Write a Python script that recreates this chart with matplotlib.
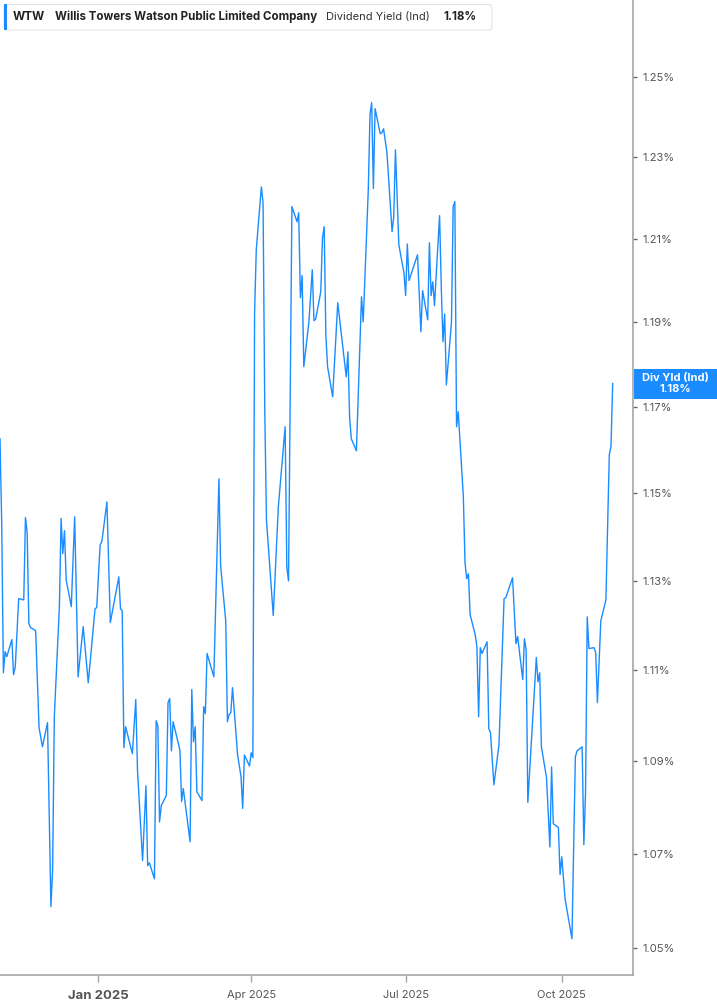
import matplotlib
matplotlib.use("Agg")
import matplotlib.pyplot as plt
import matplotlib.transforms as mtransforms
from matplotlib.patches import FancyBboxPatch, Rectangle
from matplotlib.ticker import FixedLocator, NullLocator, FuncFormatter
import pandas as pd

plt.rcParams['font.family'] = ['Inter', 'DejaVu Sans']

ticker = "WTW"
company = "Willis Towers Watson Public Limited Company"
metric = "Dividend Yield (Ind)"
box_label = "Div Yld (Ind)"

dates = [
    "2024-11-04", "2024-11-05", "2024-11-06", "2024-11-07", "2024-11-08", "2024-11-11", "2024-11-12",
    "2024-11-13", "2024-11-15", "2024-11-18", "2024-11-19", "2024-11-20", "2024-11-21", "2024-11-22",
    "2024-11-25", "2024-11-27", "2024-11-29", "2024-12-02", "2024-12-04", "2024-12-05", "2024-12-06",
    "2024-12-09", "2024-12-10", "2024-12-11", "2024-12-12", "2024-12-13", "2024-12-16", "2024-12-18",
    "2024-12-20", "2024-12-23", "2024-12-26", "2024-12-30", "2024-12-31", "2025-01-02", "2025-01-03",
    "2025-01-06", "2025-01-08", "2025-01-13", "2025-01-14", "2025-01-15", "2025-01-16", "2025-01-17",
    "2025-01-21", "2025-01-23", "2025-01-24", "2025-01-27", "2025-01-29", "2025-01-30", "2025-01-31",
    "2025-02-03", "2025-02-04", "2025-02-05", "2025-02-06", "2025-02-07", "2025-02-10", "2025-02-11",
    "2025-02-12", "2025-02-13", "2025-02-14", "2025-02-18", "2025-02-19", "2025-02-20", "2025-02-24",
    "2025-02-25", "2025-02-26", "2025-02-27", "2025-02-28", "2025-03-03", "2025-03-04", "2025-03-05",
    "2025-03-06", "2025-03-10", "2025-03-13", "2025-03-14", "2025-03-17", "2025-03-18", "2025-03-19",
    "2025-03-20", "2025-03-21", "2025-03-24", "2025-03-26", "2025-03-27", "2025-03-28", "2025-03-31",
    "2025-04-01", "2025-04-02", "2025-04-03", "2025-04-04", "2025-04-07", "2025-04-08", "2025-04-09",
    "2025-04-10", "2025-04-14", "2025-04-17", "2025-04-21", "2025-04-22", "2025-04-23", "2025-04-25",
    "2025-04-28", "2025-04-29", "2025-04-30", "2025-05-01", "2025-05-02", "2025-05-05", "2025-05-07",
    "2025-05-08", "2025-05-09", "2025-05-12", "2025-05-13", "2025-05-14", "2025-05-15", "2025-05-16",
    "2025-05-19", "2025-05-22", "2025-05-27", "2025-05-28", "2025-05-29", "2025-05-30", "2025-06-02",
    "2025-06-05", "2025-06-06", "2025-06-09", "2025-06-10", "2025-06-11", "2025-06-12", "2025-06-13",
    "2025-06-16", "2025-06-17", "2025-06-18", "2025-06-20", "2025-06-23", "2025-06-24", "2025-06-25",
    "2025-06-27", "2025-06-30", "2025-07-01", "2025-07-02", "2025-07-03", "2025-07-08", "2025-07-10",
    "2025-07-11", "2025-07-14", "2025-07-15", "2025-07-16", "2025-07-17", "2025-07-18", "2025-07-21",
    "2025-07-22", "2025-07-23", "2025-07-24", "2025-07-25", "2025-07-28", "2025-07-29", "2025-07-30",
    "2025-07-31", "2025-08-01", "2025-08-04", "2025-08-05", "2025-08-06", "2025-08-07", "2025-08-08",
    "2025-08-11", "2025-08-12", "2025-08-13", "2025-08-14", "2025-08-15", "2025-08-18", "2025-08-19",
    "2025-08-20", "2025-08-22", "2025-08-25", "2025-08-28", "2025-08-29", "2025-09-02", "2025-09-04",
    "2025-09-05", "2025-09-08", "2025-09-09", "2025-09-10", "2025-09-11", "2025-09-16", "2025-09-17",
    "2025-09-18", "2025-09-19", "2025-09-22", "2025-09-24", "2025-09-25", "2025-09-26", "2025-09-29",
    "2025-09-30", "2025-10-01", "2025-10-03", "2025-10-07", "2025-10-09", "2025-10-10", "2025-10-13",
    "2025-10-14", "2025-10-15", "2025-10-16", "2025-10-17", "2025-10-20", "2025-10-21", "2025-10-22",
    "2025-10-24", "2025-10-27", "2025-10-29", "2025-10-30", "2025-10-31",
]

div_yield = [
    1.1626, 1.1432, 1.1094, 1.1141, 1.1130, 1.1168, 1.1090,
    1.1107, 1.1260, 1.1257, 1.1444, 1.1410, 1.1204, 1.1195,
    1.1188, 1.0973, 1.0931, 1.0984, 1.0587, 1.0665, 1.0997,
    1.1242, 1.1442, 1.1362, 1.1414, 1.1302, 1.1242, 1.1446,
    1.1085, 1.1197, 1.1072, 1.1237, 1.1240, 1.1382, 1.1389,
    1.1480, 1.1206, 1.1309, 1.1237, 1.1233, 1.0929, 1.0975,
    1.0916, 1.1035, 1.0881, 1.0685, 1.0846, 1.0674, 1.0680,
    1.0646, 1.0988, 1.0977, 1.0768, 1.0803, 1.0825, 1.1028,
    1.1037, 1.0922, 1.0986, 1.0924, 1.0812, 1.0840, 1.0725,
    1.1057, 1.0942, 1.0975, 1.0833, 1.0814, 1.1019, 1.1004,
    1.1137, 1.1085, 1.1533, 1.1334, 1.1210, 1.0986, 1.1002,
    1.1006, 1.1061, 1.0913, 1.0866, 1.0797, 1.0913, 1.0889,
    1.0918, 1.0907, 1.1923, 1.2074, 1.2227, 1.2188, 1.1694,
    1.1439, 1.1222, 1.1469, 1.1654, 1.1332, 1.1300, 1.2179,
    1.2142, 1.2164, 1.1959, 1.2012, 1.1795, 1.1901, 1.2026,
    1.1904, 1.1908, 1.1973, 1.2103, 1.2130, 1.1870, 1.1795,
    1.1724, 1.1947, 1.1771, 1.1830, 1.1675, 1.1626, 1.1598,
    1.1961, 1.1901, 1.2220, 1.2405, 1.2435, 1.2223, 1.2420,
    1.2358, 1.2360, 1.2370, 1.2311, 1.2118, 1.2154, 1.2318,
    1.2086, 1.2019, 1.1964, 1.2088, 1.2000, 1.2062, 1.1878,
    1.1976, 1.1906, 1.2091, 1.1964, 1.1997, 1.1940, 1.2157,
    1.1985, 1.1854, 1.1920, 1.1752, 1.1899, 1.2179, 1.2191,
    1.1654, 1.1689, 1.1492, 1.1341, 1.1305, 1.1316, 1.1224,
    1.1179, 1.1152, 1.0997, 1.1150, 1.1137, 1.1163, 1.0971,
    1.0962, 1.0848, 1.0935, 1.1260, 1.1262, 1.1307, 1.1159,
    1.1175, 1.1079, 1.1170, 1.1145, 1.0810, 1.1128, 1.1074,
    1.1094, 1.0931, 1.0864, 1.0714, 1.0887, 1.0764, 1.0756,
    1.0655, 1.0693, 1.0602, 1.0519, 1.0909, 1.0922, 1.0931,
    1.0719, 1.0831, 1.1219, 1.1148, 1.1150, 1.1139, 1.1028,
    1.1210, 1.1257, 1.1589, 1.1608, 1.1755,
]

y_ticks = [1.05, 1.07, 1.09, 1.11, 1.13, 1.15, 1.17, 1.19, 1.21, 1.23, 1.25]
x_ticks = ["2025-01-01", "2025-04-01", "2025-07-01", "2025-10-01"]
x_tick_labels = ["Jan 2025", "Apr 2025", "Jul 2025", "Oct 2025"]

blue = "#1a8cff"
axis_grey = "#a6a6a6"
text_grey = "#555555"

x = pd.to_datetime(dates)

fig = plt.figure(figsize=(7.17, 10.05), dpi=100)
ax = fig.add_axes([0.0, 1 - 975 / 1005, 632.7 / 717, 975 / 1005])

ax.plot(x, div_yield, color=blue, lw=1.0)

ax.set_yscale("log")
ax.set_ylim(1.0443, 1.2693)
ax.set_xlim(pd.Timestamp("2024-11-04"), pd.Timestamp("2025-11-11 19:00"))

ax.yaxis.set_major_locator(FixedLocator(y_ticks))
ax.yaxis.set_minor_locator(NullLocator())
ax.yaxis.set_major_formatter(FuncFormatter(lambda v, p: f"{v:.2f}%"))
ax.yaxis.tick_right()
ax.tick_params(axis="y", length=3, width=1, color="#666666", pad=4,
               labelsize=8, labelcolor=text_grey)

ax.set_xticks(pd.to_datetime(x_ticks))
ax.set_xticklabels(x_tick_labels)
ax.xaxis.set_minor_locator(NullLocator())
ax.tick_params(axis="x", length=5, width=1, color=axis_grey, pad=6,
               labelsize=8, labelcolor=text_grey)
first = ax.get_xticklabels()[0]
first.set_fontweight("bold")
first.set_fontsize(9.5)

for side in ["top", "left"]:
    ax.spines[side].set_visible(False)
for side in ["right", "bottom"]:
    ax.spines[side].set_color(axis_grey)
    ax.spines[side].set_linewidth(1.2)

# last value tag on the right axis
disp_y = ax.transData.transform((0, div_yield[-1]))[1] / fig.bbox.height
fig.add_artist(Rectangle((633.5 / 717, disp_y - 15 / 1005), (717 - 633.5) / 717, 30 / 1005,
                         transform=fig.transFigure, facecolor=blue, edgecolor="none", zorder=4))
fig.text((633.5 + 717) / 2 / 717, disp_y, f"{box_label}\n{div_yield[-1]:.2f}%",
         ha="center", va="center", color="white", fontsize=8, fontweight="bold",
         linespacing=1.05, zorder=5)

# header box
fig.add_artist(FancyBboxPatch((4 / 717, 1 - 30 / 1005), 488 / 717, 25.5 / 1005,
                              boxstyle="round,pad=0,rounding_size=0.004",
                              transform=fig.transFigure, facecolor="white",
                              edgecolor="#e3e3e3", lw=0.8, zorder=3))
fig.add_artist(Rectangle((4 / 717, 1 - 30 / 1005), 3 / 717, 25.5 / 1005,
                         transform=fig.transFigure, facecolor=blue, edgecolor="none", zorder=4))
hy = 1 - 17 / 1005
fig.text(13 / 717, hy, ticker, ha="left", va="center", fontsize=8.5, fontweight="bold", color="#222222", zorder=5)
fig.text(55 / 717, hy, company, ha="left", va="center", fontsize=8.3, fontweight="bold", color="#222222", zorder=5)
fig.text(326 / 717, hy, metric, ha="left", va="center", fontsize=8, color="#333333", zorder=5)
fig.text(443 / 717, hy, f"{div_yield[-1]:.2f}%", ha="left", va="center", fontsize=8.3,
         fontweight="bold", color="#222222", zorder=5)

fig.savefig("out.png", dpi=100, facecolor="white")
